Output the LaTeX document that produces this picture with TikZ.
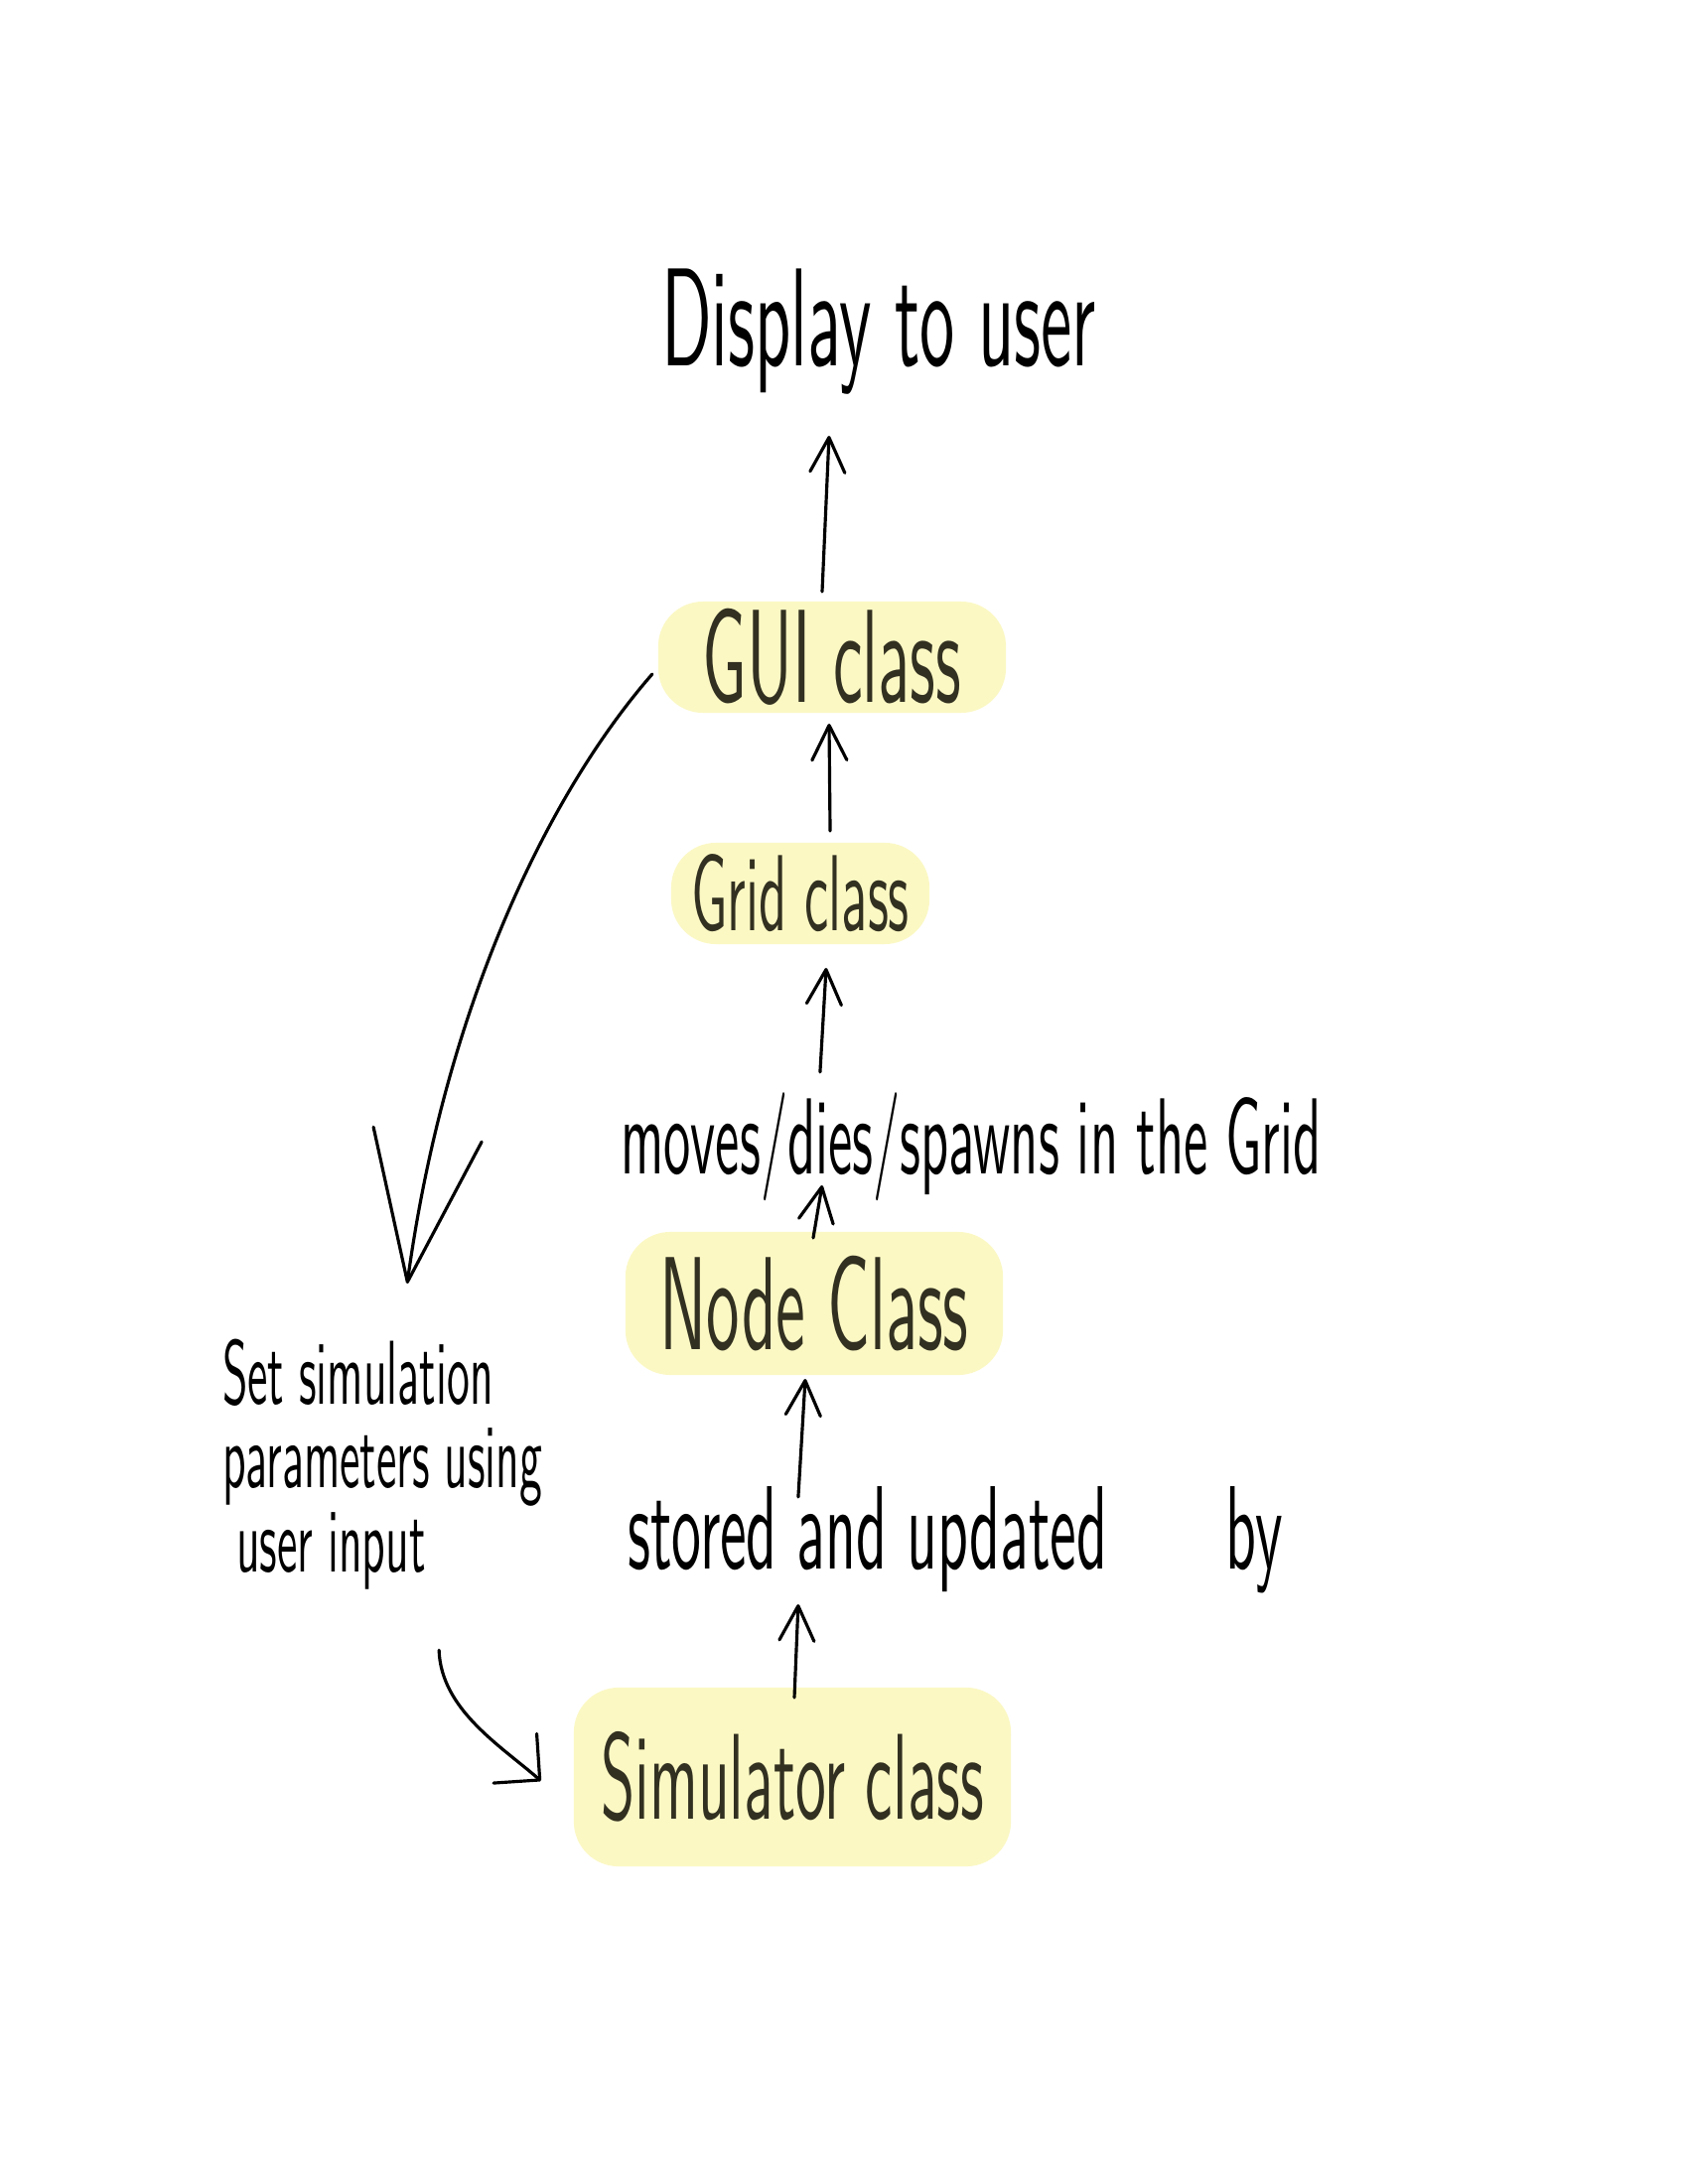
\documentclass[tikz,border=0pt]{standalone}
\usepackage{fontspec}
\newfontfamily\hand[FakeStretch=0.5]{lmsans10-regular.otf}
\usetikzlibrary{arrows.meta}
\definecolor{hlyellow}{RGB}{251,248,196}
\definecolor{ink}{RGB}{50,48,32}
\tikzset{
    hilite/.style = {
        fill=hlyellow,
        rounded corners=0.45cm,
        text=ink,
        inner sep=0pt,
        outer sep=0pt
    },
    note/.style = {
        inner sep=0pt,
        outer sep=0pt,
        anchor=base
    },
    >={Straight Barb[length=0.35cm,width=0.35cm,round]},
}

\begin{document}
\begin{tikzpicture}[x=0.01cm, y=-0.01cm, line width=0.9pt, line cap=round]
            \useasboundingbox (0,0) rectangle (1700,2200);

            \node[note, font=\hand\fontsize{40}{44}\selectfont] (display) at (885,368) {Display to user};
            \node[hilite, minimum width=3.5cm, minimum height=1.12cm,
            font=\hand\fontsize{38}{42}\selectfont] (gui) at (838,662) {GUI class};
            \node[hilite, minimum width=2.6cm, minimum height=1.02cm,
            font=\hand\fontsize{31}{34}\selectfont] (grid) at (806,900) {Grid class};
            \node[note, font=\hand\fontsize{31}{34}\selectfont] (moves) at (978,1182) {moves/dies/spawns in the Grid};
            \node[hilite, minimum width=3.8cm, minimum height=1.44cm,
            font=\hand\fontsize{38}{42}\selectfont] (nodeclass) at (820,1313) {Node Class};
            \node[note, font=\hand\fontsize{34}{38}\selectfont] (stored) at (962,1580) {stored and updated\quad by};
            \node[hilite, minimum width=4.4cm, minimum height=1.8cm,
            font=\hand\fontsize{35}{39}\selectfont] (sim) at (798,1790) {Simulator class};
            \node[note, anchor=north west, align=left,
            font=\hand\fontsize{26}{24}\selectfont] (params) at (224,1349)
            {Set simulation\\parameters using\\\hspace{4pt}user input};

            \draw[->] ([xshift=-0.1cm,yshift=0.1cm]gui.north) -- ([xshift=-0.5cm,yshift=-0.71cm]display.base);
            \draw[->] ([xshift=0.3cm,yshift=0.12cm]grid.north) -- ([xshift=-0.03cm,yshift=-0.11cm]gui.south);
            \draw[->] ([xshift=-1.52cm,yshift=1.02cm]moves.base) -- ([xshift=0.26cm,yshift=-0.24cm]grid.south);
            \draw[->] ([xshift=-0.01cm,yshift=-0.06cm]nodeclass.north) -- ([xshift=-1.5cm,yshift=-0.12cm]moves.base);
            \draw[->] ([xshift=-1.58cm,yshift=0.72cm]stored.base) -- ([xshift=-0.09cm,yshift=-0.04cm]nodeclass.south);
            \draw[->] ([xshift=0.02cm,yshift=-0.1cm]sim.north) -- ([xshift=-1.58cm,yshift=-0.36cm]stored.base);

            % user input goes back into the simulator
            \draw[-{Straight Barb[length=1.5cm,width=1.1cm,round]}]
            ([xshift=-0.06cm,yshift=-0.17cm]gui.west) .. controls +(-97,111) and +(40,-293) ..
            ([xshift=1.86cm,yshift=0.56cm]params.north west);
            \draw[-{Straight Barb[length=0.33cm,width=0.66cm,round]}]
            ([xshift=2.18cm,yshift=-3.13cm]params.north west) .. controls +(2,60) and +(-40,-35) ..
            ([xshift=-0.33cm,yshift=-0.04cm]sim.west);
        \end{tikzpicture}
\end{document}
